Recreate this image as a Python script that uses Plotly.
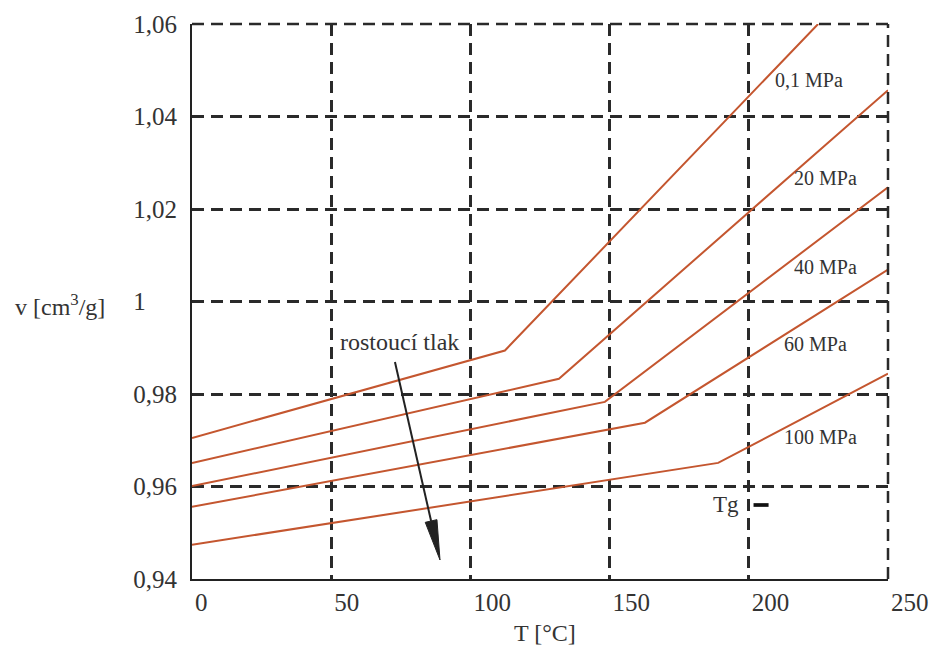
import plotly.graph_objects as go

# ---- data ----
pressure_labels = ["0,1 MPa", "20 MPa", "40 MPa", "60 MPa", "100 MPa"]
T_p01 = [0, 112.4, 224.9]
v_p01 = [0.9705, 0.9894, 1.0600]
T_p20 = [0, 131.8, 250]
v_p20 = [0.9651, 0.9833, 1.0457]
T_p40 = [0, 148.3, 250]
v_p40 = [0.9601, 0.9783, 1.0247]
T_p60 = [0, 162.7, 250]
v_p60 = [0.9556, 0.9738, 1.0069]
T_p100 = [0, 189.0, 250]
v_p100 = [0.9474, 0.9651, 0.9844]

x_tickvals = [0, 50, 100, 150, 200, 250]
x_ticktext = ["0", "50", "100", "150", "200", "250"]
y_tickvals = [0.94, 0.96, 0.98, 1.00, 1.02, 1.04, 1.06]
y_ticktext = ["0,94", "0,96", "0,98", "1", "1,02", "1,04", "1,06"]

# label anchor positions (data units)
label_T = [221.6, 227.4, 227.4, 223.8, 225.9]
label_v = [1.0479, 1.0267, 1.0075, 0.9908, 0.9707]

FONT = "Liberation Serif, Times New Roman, serif"
TXT = "#333333"
LINE = "#C4562F"
GRID = "#2a2a2a"

series = [(T_p01, v_p01), (T_p20, v_p20), (T_p40, v_p40), (T_p60, v_p60), (T_p100, v_p100)]

fig = go.Figure()
for (T, v), name in zip(series, pressure_labels):
    fig.add_trace(go.Scatter(x=T, y=v, mode="lines", name=name,
                             line=dict(color=LINE, width=2),
                             showlegend=False, hoverinfo="skip"))

# pad x tick labels on the left so the digits start at the gridline
FS = "\u2007"
x_ticktext_padded = [FS * len(t) + t for t in x_ticktext]
y_ticktext_padded = [t + ("\u2008" + FS * 2 if t == "1" else "") for t in y_ticktext]

axis_common = dict(
    showgrid=True, gridcolor=GRID, gridwidth=2.5, griddash="12px,7px",
    showline=True, linecolor="#222222", linewidth=2, ticks="",
    zeroline=False, automargin=False,
    tickfont=dict(family=FONT, size=25, color=TXT),
)

fig.update_layout(
    width=938, height=664,
    margin=dict(l=184, r=58, t=16, b=93),
    plot_bgcolor="white", paper_bgcolor="white",
    xaxis=dict(range=[0, 250], tickmode="array", tickvals=x_tickvals,
               ticktext=x_ticktext_padded, ticklabelshift=3, **axis_common),
    yaxis=dict(range=[0.94, 1.06], tickmode="array", tickvals=y_tickvals,
               ticktext=y_ticktext_padded, ticklabelstandoff=8, **axis_common),
)

# dashed top and right borders
fig.add_shape(type="line", xref="paper", yref="paper", x0=0, x1=1, y0=1, y1=1,
              line=dict(color=GRID, width=2.5, dash="12px,7px"))
fig.add_shape(type="line", xref="paper", yref="paper", x0=1, x1=1, y0=0, y1=1,
              line=dict(color=GRID, width=2.5, dash="12px,7px"))

# pressure labels
for name, tx, vy in zip(pressure_labels, label_T, label_v):
    fig.add_annotation(x=tx, y=vy, text=name, showarrow=False,
                       font=dict(family=FONT, size=20, color=TXT))

# "rostoucí tlak" + arrow (shaft + long narrow head)
fig.add_annotation(x=74.7, y=0.9912, text="rostoucí tlak", showarrow=False,
                   font=dict(family=FONT, size=24, color=TXT))
fig.add_shape(type="line", x0=72.9, y0=0.9869, x1=85.88, y1=0.95254,
              line=dict(color="#222222", width=2))
fig.add_shape(type="path", path="M 89.08,0.94411 L 87.98,0.95283 L 83.78,0.95225 Z",
              line=dict(color="#222222", width=1), fillcolor="#222222")

# Tg marker
fig.add_annotation(x=191.8, y=0.9562, text="Tg", showarrow=False,
                   font=dict(family=FONT, size=23, color=TXT))
fig.add_shape(type="rect", x0=201.7, x1=207.1, y0=0.9556, y1=0.9564,
              line=dict(width=0), fillcolor="#111111")

# axis titles
fig.add_annotation(xref="paper", yref="paper", x=(13 - 192) / 696, y=(579 - 305) / 555,
                   xanchor="left", yanchor="middle", showarrow=False,
                   text="v [cm<sup>3</sup>/g]", font=dict(family=FONT, size=24, color=TXT))
fig.add_annotation(xref="paper", yref="paper", x=(545 - 192) / 696, y=(579 - 633) / 555,
                   xanchor="center", yanchor="middle", showarrow=False,
                   text="T [°C]", font=dict(family=FONT, size=24, color=TXT))

fig.write_html("out.html")
